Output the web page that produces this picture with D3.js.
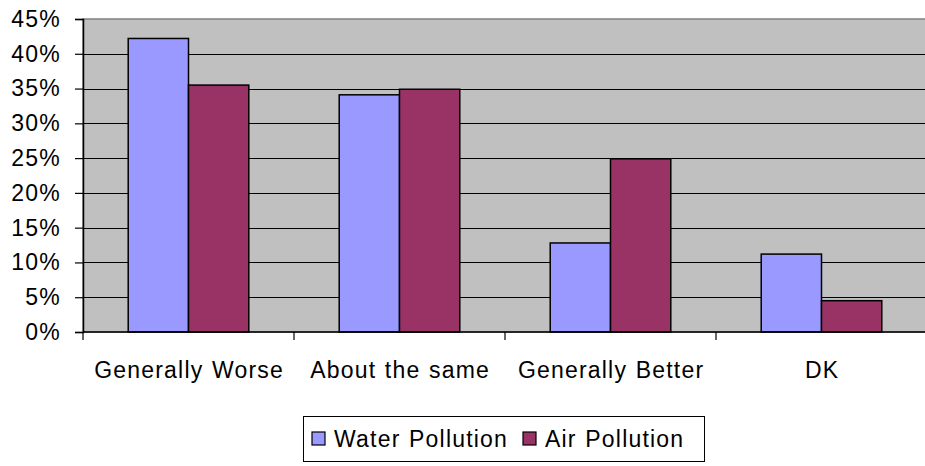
<!DOCTYPE html>
<html>
<head>
<meta charset="utf-8">
<script src="https://cdn.jsdelivr.net/npm/d3@7"></script>
<style>
  body { margin: 0; background: #fff; }
  svg { display: block; font-family: "Liberation Sans", Arial, sans-serif; }
</style>
</head>
<body>
<svg id="chart" width="925" height="466"></svg>
<script>
let categories = ['Generally Worse', 'About the same', 'Generally Better', 'DK'];
let seriesNames = ['Water Pollution', 'Air Pollution'];
let waterValues = [0.422, 0.341, 0.128, 0.112];
let airValues = [0.355, 0.349, 0.249, 0.045];
let yTicks = [0, 0.05, 0.10, 0.15, 0.20, 0.25, 0.30, 0.35, 0.40, 0.45];
let colors = ['#9999ff', '#993366'];

let fontSize = 23;
let spacing = 1.2;
let wordSpacing = 1;

let svg = d3.select('#chart');
let margin = {left: 83, top: 19, right: -2, bottom: 134};
let width = +svg.attr('width') - margin.left - margin.right;
let height = +svg.attr('height') - margin.top - margin.bottom;

let rows = categories.map((c, i) => ({cat: c, vals: [waterValues[i], airValues[i]]}));

let x0 = d3.scaleBand()
  .domain(categories)
  .range([0, width]);

let x1 = d3.scaleBand()
  .domain(seriesNames)
  .range([0, x0.bandwidth()])
  .paddingOuter(0.75);

let y = d3.scaleLinear()
  .domain([0, 0.45])
  .range([height, 0]);

let g = svg.append('g').attr('transform', `translate(${margin.left},${margin.top})`);

// plot area
g.append('rect')
  .attr('x', 0).attr('y', 0)
  .attr('width', width).attr('height', height)
  .attr('fill', '#c0c0c0')
  .attr('stroke', '#808080')
  .attr('stroke-width', 1.5);

// gridlines
g.selectAll('.grid')
  .data(yTicks.filter(d => d > 0 && d < 0.45))
  .enter()
  .append('line')
  .attr('class', 'grid')
  .attr('x1', 0).attr('x2', width)
  .attr('y1', d => Math.round(y(d)) + 0.5)
  .attr('y2', d => Math.round(y(d)) + 0.5)
  .attr('stroke', '#000')
  .attr('stroke-width', 1);

// bars
let groups = g.selectAll('.group')
  .data(rows)
  .enter()
  .append('g')
  .attr('class', 'group')
  .attr('transform', d => `translate(${x0(d.cat)},0)`);

groups.selectAll('rect')
  .data(d => d.vals.map((v, i) => ({name: seriesNames[i], v: v, i: i})))
  .enter()
  .append('rect')
  .attr('x', d => x1(d.name))
  .attr('y', d => y(d.v))
  .attr('width', x1.bandwidth())
  .attr('height', d => height - y(d.v))
  .attr('fill', d => colors[d.i])
  .attr('stroke', '#000')
  .attr('stroke-width', 1.5);

// y axis
let yAxis = d3.axisLeft(y)
  .tickValues(yTicks)
  .tickFormat(d3.format('.0%'))
  .tickSize(8)
  .tickPadding(14);

let ya = g.append('g').call(yAxis);
ya.select('.domain').attr('stroke', '#000').attr('stroke-width', 1.5);
ya.selectAll('.tick line').attr('stroke', '#000').attr('stroke-width', 1.2);
ya.selectAll('.tick text')
  .attr('font-size', fontSize)
  .attr('letter-spacing', spacing)
  .attr('fill', '#000')
  .attr('font-family', '"Liberation Sans", Arial, sans-serif');

// x axis line and ticks at category boundaries
g.append('line')
  .attr('x1', 0).attr('x2', width)
  .attr('y1', height).attr('y2', height)
  .attr('stroke', '#000')
  .attr('stroke-width', 1.5);

let bounds = categories.map(c => x0(c)).concat([width]);
g.selectAll('.xtick')
  .data(bounds)
  .enter()
  .append('line')
  .attr('class', 'xtick')
  .attr('x1', d => d).attr('x2', d => d)
  .attr('y1', height).attr('y2', height + 8)
  .attr('stroke', '#000')
  .attr('stroke-width', 1.2);

g.selectAll('.xlabel')
  .data(categories)
  .enter()
  .append('text')
  .attr('class', 'xlabel')
  .attr('x', d => x0(d) + x0.bandwidth() / 2 + spacing / 2)
  .attr('y', height + 46)
  .attr('text-anchor', 'middle')
  .attr('font-size', fontSize)
  .attr('letter-spacing', spacing)
  .attr('word-spacing', wordSpacing)
  .attr('fill', '#000')
  .text(d => d);

// legend
let legend = svg.append('g').attr('transform', 'translate(303,416)');
legend.append('rect')
  .attr('x', 0.5).attr('y', 0.5)
  .attr('width', 401).attr('height', 45)
  .attr('fill', '#fff')
  .attr('stroke', '#000')
  .attr('stroke-width', 1);

let legendX = [9, 220];
let items = legend.selectAll('.item')
  .data(seriesNames)
  .enter()
  .append('g')
  .attr('class', 'item')
  .attr('transform', (d, i) => `translate(${legendX[i]},0)`);

items.append('rect')
  .attr('x', 0).attr('y', 16)
  .attr('width', 13).attr('height', 13)
  .attr('fill', (d, i) => colors[i])
  .attr('stroke', '#000')
  .attr('stroke-width', 1.2);

items.append('text')
  .attr('x', 22)
  .attr('y', 31)
  .attr('font-size', fontSize)
  .attr('letter-spacing', spacing)
  .attr('word-spacing', wordSpacing)
  .attr('fill', '#000')
  .text(d => d);
</script>
</body>
</html>
